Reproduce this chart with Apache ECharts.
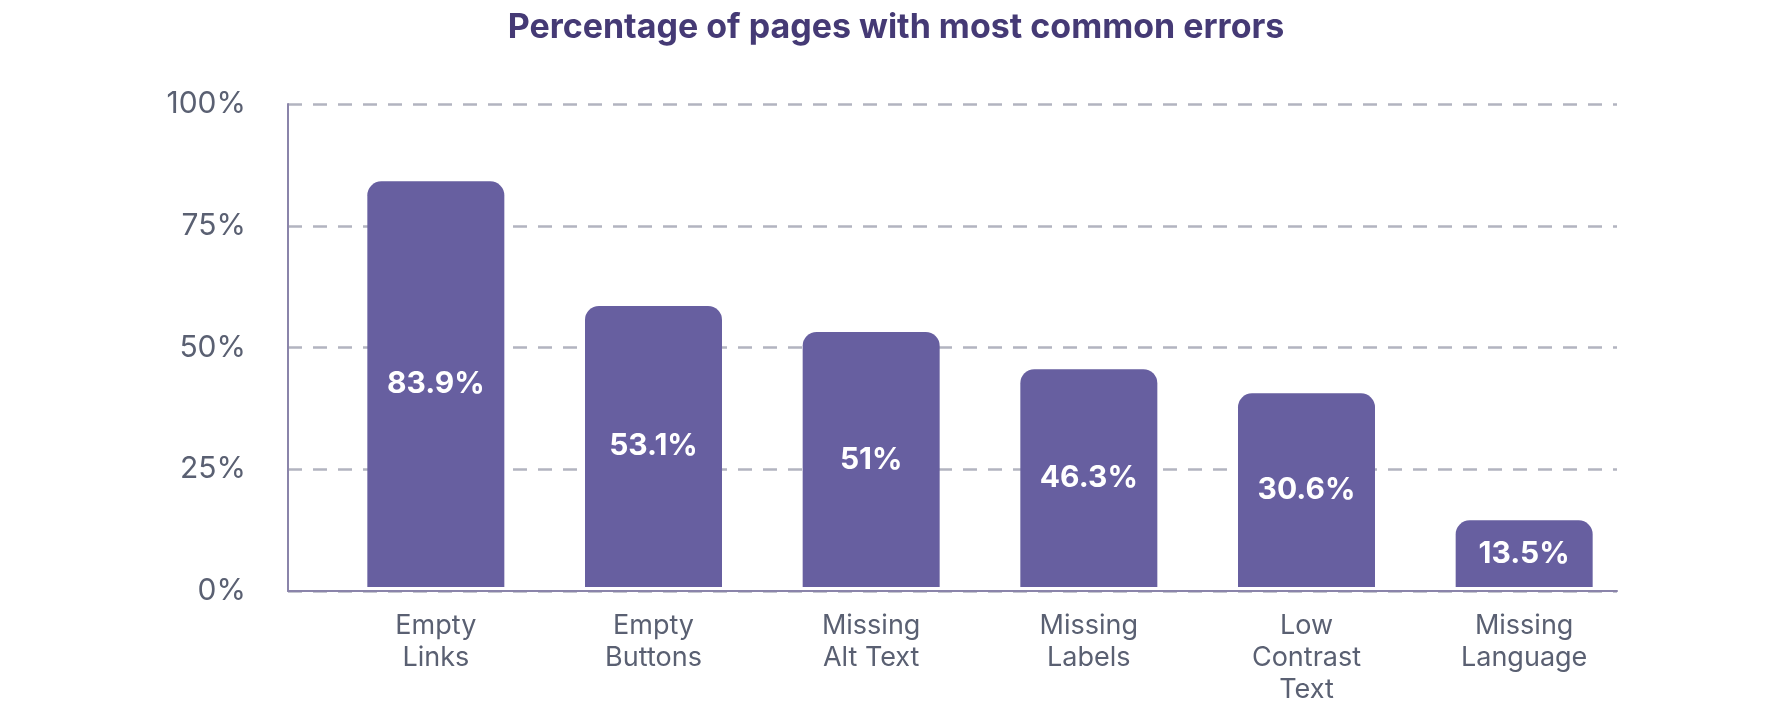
<!DOCTYPE html>
<html>
<head>
<meta charset="utf-8">
<script src="https://cdn.jsdelivr.net/npm/echarts@6/dist/echarts.min.js"></script>
<style>html,body{margin:0;padding:0;background:#fff}#main{width:1792px;height:706px}</style>
</head>
<body>
<div id="main"></div>
<script>
const categories = ['Empty\nLinks', 'Empty\nButtons', 'Missing\nAlt Text', 'Missing\nLabels', 'Low\nContrast\nText', 'Missing\nLanguage'];
// bar heights as drawn in the picture
const barValues = [84.0, 58.2, 52.8, 45.1, 40.1, 13.8];
// labels printed on the bars
const barLabels = ['83.9%', '53.1%', '51%', '46.3%', '30.6%', '13.5%'];

const myChart = echarts.init(document.getElementById('main'));
const font = 'Inter, "Noto Sans", sans-serif';

const option = {
    title: {
        text: 'Percentage of pages with most common errors',
        left: 'center', top: 6,
        textStyle: { color: '#453a75', fontSize: 34, fontWeight: 'bold', fontFamily: font }
    },
    grid: [
        { left: 288, right: 175, top: 104, bottom: 115 },
        { left: 327, right: 159, top: 104, bottom: 115 }
    ],
    xAxis: [
        { gridIndex: 0, type: 'category', data: [''], axisTick: { show: false }, axisLabel: { show: false },
          axisLine: { lineStyle: { color: '#8a84aa', width: 2 } } },
        { gridIndex: 1, type: 'category', data: categories, axisTick: { show: false },
          axisLine: { show: false },
          axisLabel: { color: '#5a6072', fontSize: 27, lineHeight: 32, margin: 23, fontFamily: font, interval: 0 } }
    ],
    yAxis: [
        { gridIndex: 0, type: 'value', min: 0, max: 100, interval: 25,
          axisLine: { show: true, lineStyle: { color: '#8a84aa', width: 2 } },
          axisLabel: { formatter: '{value}%', color: '#5a6072', fontSize: 30, margin: 42, fontFamily: font },
          splitLine: { lineStyle: { type: [14, 11], color: '#b2b4c0', width: 2.5 } } },
        { gridIndex: 1, type: 'value', min: 0, max: 100, interval: 25, show: false }
    ],
    series: [{
        type: 'bar', xAxisIndex: 1, yAxisIndex: 1,
        data: barValues, barWidth: 137,
        itemStyle: { color: '#675fa0', borderRadius: [14, 14, 0, 0] },
        label: {
            show: true, position: 'inside',
            formatter: p => barLabels[p.dataIndex],
            color: '#fff', fontSize: 30, fontWeight: 'bold', fontFamily: font
        }
    }]
};
myChart.setOption(option);
</script>
</body>
</html>
